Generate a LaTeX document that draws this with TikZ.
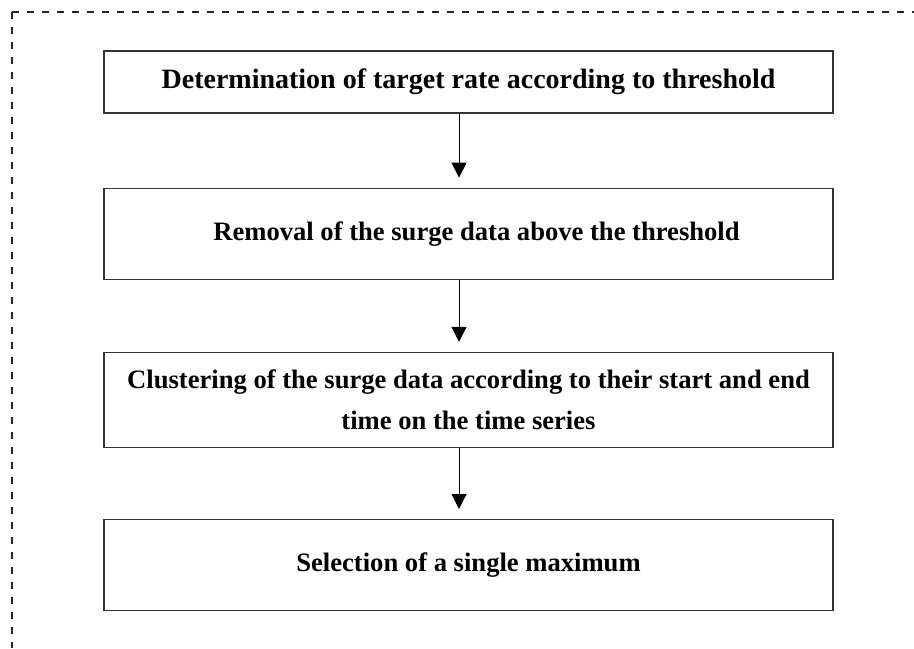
\documentclass[tikz,border=0pt]{standalone}
\usepackage{fontspec}
\setmainfont{Liberation Serif}
\usepackage{tikz}
\usetikzlibrary{positioning,arrows.meta}

\begin{document}
\begin{tikzpicture}[node distance=36pt, auto,
   stepbox/.style={draw=black!80, line width=0.6pt, rectangle, minimum width=364.5pt, minimum height=45.5pt, align=center, font=\fontsize{13.3}{20.5}\selectfont\bfseries},
   flow/.style={-{Triangle[length=7.5pt, width=7.5pt]}, line width=0.5pt, shorten >=5pt},
   frame/.style={line width=0.6pt, black!85, dash pattern=on 3.5pt off 4pt}
]
\useasboundingbox (0,0) rectangle (457pt,-324pt);
% Frame
\coordinate (corner) at (6pt,-6pt);
\coordinate (topend) at (457pt,-6pt);
\coordinate (leftend) at (6pt,-324pt);
\draw[frame] (corner) -- (topend);
\draw[frame] (corner) -- (leftend);

% Nodes
\node [stepbox, minimum height=31pt, font=\fontsize{14}{20.5}\selectfont\bfseries] (target) at (234.25pt,-41pt) {Determination of target rate according to threshold};
\node [stepbox, below=37pt of target] (removal) {\raisebox{-2.5pt}{\hspace*{8pt}Removal of the surge data above the threshold}};
\node [stepbox, minimum height=47.5pt, below=of removal] (cluster) {Clustering of the surge data according to their start and end\\ time on the time series};
\node [stepbox, below=35.5pt of cluster] (select) {Selection of a single maximum};

% Arrows
\draw[flow] ([xshift=-4.75pt]target.south) -- ([xshift=-4.75pt]removal.north);
\draw[flow] ([xshift=-4.75pt]removal.south) -- ([xshift=-4.75pt]cluster.north);
\draw[flow] ([xshift=-4.75pt]cluster.south) -- ([xshift=-4.75pt]select.north);
\end{tikzpicture}
\end{document}
